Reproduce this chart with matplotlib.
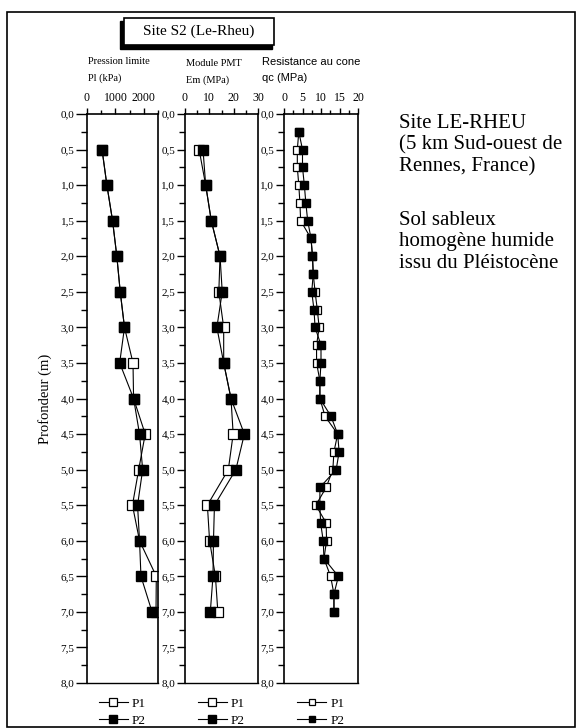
import numpy as np
import matplotlib.pyplot as plt
from matplotlib.patches import Rectangle
from matplotlib.ticker import MultipleLocator, FuncFormatter

# depths (m)
depth_pmt = [0.5, 1.0, 1.5, 2.0, 2.5, 3.0, 3.5, 4.0, 4.5, 5.0, 5.5, 6.0, 6.5, 7.0]
depth_cpt = [0.25, 0.5, 0.75, 1.0, 1.25, 1.5, 1.75, 2.0, 2.25, 2.5, 2.75, 3.0, 3.25, 3.5,
             3.75, 4.0, 4.25, 4.5, 4.75, 5.0, 5.25, 5.5, 5.75, 6.0, 6.25, 6.5, 6.75, 7.0]

# pression limite Pl (kPa)
pl_p1 = [530, 700, 900, 1050, 1170, 1320, 1620, 1640, 2050, 1820, 1600, 1850, 2440, 2430]
pl_p2 = [530, 700, 900, 1050, 1170, 1320, 1150, 1640, 1850, 1960, 1780, 1850, 1900, 2290]

# module PMT Em (MPa)
em_p1 = [5.8, 8.5, 10.8, 14.4, 13.9, 15.9, 15.9, 18.9, 19.8, 17.8, 9.2, 10.1, 12.5, 13.5]
em_p2 = [7.4, 8.5, 10.8, 14.4, 15.3, 13.1, 15.9, 18.9, 24.4, 20.9, 12.1, 11.7, 11.5, 10.4]

# resistance au cone qc (MPa)
qc_p1 = [4.0, 3.6, 3.6, 4.0, 4.3, 4.5, 7.3, 7.7, 7.9, 8.4, 9.0, 9.5, 8.8, 8.8,
         9.7, 9.7, 11.1, 14.5, 13.5, 13.2, 11.4, 8.6, 11.4, 11.5, 10.8, 12.6, 13.5, 13.5]
qc_p2 = [4.0, 5.0, 5.0, 5.5, 5.9, 6.4, 7.3, 7.7, 7.9, 7.5, 8.1, 8.4, 10.0, 10.0,
         9.7, 9.7, 12.7, 14.5, 14.9, 14.1, 9.7, 9.7, 9.9, 10.6, 10.8, 14.7, 13.5, 13.5]

W, H = 579, 728
plt.rcParams['font.family'] = ['Liberation Serif', 'DejaVu Serif']
fig = plt.figure(figsize=(W / 100, H / 100), dpi=100)


def box(x0, x1):
    # axes rect from pixel coords
    return [x0 / W, 1 - 683 / H, (x1 - x0) / W, (683 - 114) / H]


panels = [
    (box(87, 158), depth_pmt, pl_p1, pl_p2, 2500, 1000, 500, 7.5),
    (box(185, 258), depth_pmt, em_p1, em_p2, 30, 10, 5, 7.5),
    (box(284, 358), depth_cpt, qc_p1, qc_p2, 20, 5, 2.5, 6.3),
]

comma = FuncFormatter(lambda v, p: ('%.1f' % v).replace('.', ','))

for i, (rect, d, v1, v2, xmax, maj, mnr, ms) in enumerate(panels):
    ax = fig.add_axes(rect)
    ax.plot(v1, d, color='black', lw=0.8, marker='s', ms=ms, mfc='white',
            mec='black', mew=0.9, label='P1')
    ax.plot(v2, d, color='black', lw=0.8, marker='s', ms=ms, mfc='black',
            mec='black', label='P2')
    ax.set_xlim(0, xmax)
    ax.set_ylim(8, 0)
    ax.xaxis.set_ticks_position('top')
    ax.xaxis.set_major_locator(MultipleLocator(maj))
    ax.xaxis.set_minor_locator(MultipleLocator(mnr))
    ax.yaxis.set_major_locator(MultipleLocator(0.5))
    ax.yaxis.set_minor_locator(MultipleLocator(0.25))
    ax.yaxis.set_major_formatter(comma)
    ax.tick_params(axis='x', which='major', direction='out', length=4, width=1, labelsize=8.5, pad=3)
    ax.tick_params(axis='x', which='minor', direction='out', length=3, width=1)
    ax.tick_params(axis='y', which='major', direction='out', length=8 if i == 0 else 6,
                   width=1, labelsize=8, pad=1)
    ax.tick_params(axis='y', which='minor', direction='out', length=4, width=1)
    for s in ax.spines.values():
        s.set_linewidth(1.2)
    ax.spines['bottom'].set_linewidth(1.0)
    ax.legend(loc='upper center', bbox_to_anchor=(0.5, -0.005), frameon=False,
              fontsize=9.5, handlelength=2.2, handletextpad=0.3, labelspacing=0.35,
              markerscale=0.75)
    if i == 0:
        ax.set_ylabel('Profondeur (m)', fontsize=10.5, labelpad=6)

# column headers
fig.text(88 / W, 1 - 62 / H, 'Pression limite', fontsize=7.5, va='center', ha='left')
fig.text(88 / W, 1 - 78 / H, 'Pl (kPa)', fontsize=7.5, va='center', ha='left')
fig.text(186 / W, 1 - 64 / H, 'Module PMT', fontsize=7.5, va='center', ha='left')
fig.text(186 / W, 1 - 80 / H, 'Em (MPa)', fontsize=7.5, va='center', ha='left')
fig.text(262 / W, 1 - 62 / H, 'Resistance au cone', fontsize=8, va='center', ha='left',
         family=['Liberation Sans', 'DejaVu Sans'])
fig.text(262 / W, 1 - 78 / H, 'qc (MPa)', fontsize=8, va='center', ha='left',
         family=['Liberation Sans', 'DejaVu Sans'])

# title box with shadow
fig.patches.append(Rectangle((120 / W, 1 - 49 / H), 152 / W, 28 / H, transform=fig.transFigure,
                             facecolor='black', edgecolor='black'))
fig.patches.append(Rectangle((124 / W, 1 - 45 / H), 150 / W, 27 / H, transform=fig.transFigure,
                             facecolor='white', edgecolor='black', lw=1.2))
fig.text(199 / W, 1 - 31 / H, 'Site S2 (Le-Rheu)', fontsize=11, ha='center', va='center')

# site description
site_lines = ['Site LE-RHEU', '(5 km Sud-ouest de', 'Rennes, France)']
soil_lines = ['Sol sableux', 'homogène humide', 'issu du Pléistocène']
fig.text(399 / W, 1 - 114 / H, '\n'.join(site_lines), fontsize=15, ha='left', va='top',
         linespacing=1.17)
fig.text(399 / W, 1 - 211 / H, '\n'.join(soil_lines), fontsize=15, ha='left', va='top',
         linespacing=1.17)

# outer frame
fig.patches.append(Rectangle((7 / W, 1 / H), 568 / W, 715 / H, transform=fig.transFigure,
                             facecolor='none', edgecolor='black', lw=1.2))

fig.savefig('out.png', dpi=100)
